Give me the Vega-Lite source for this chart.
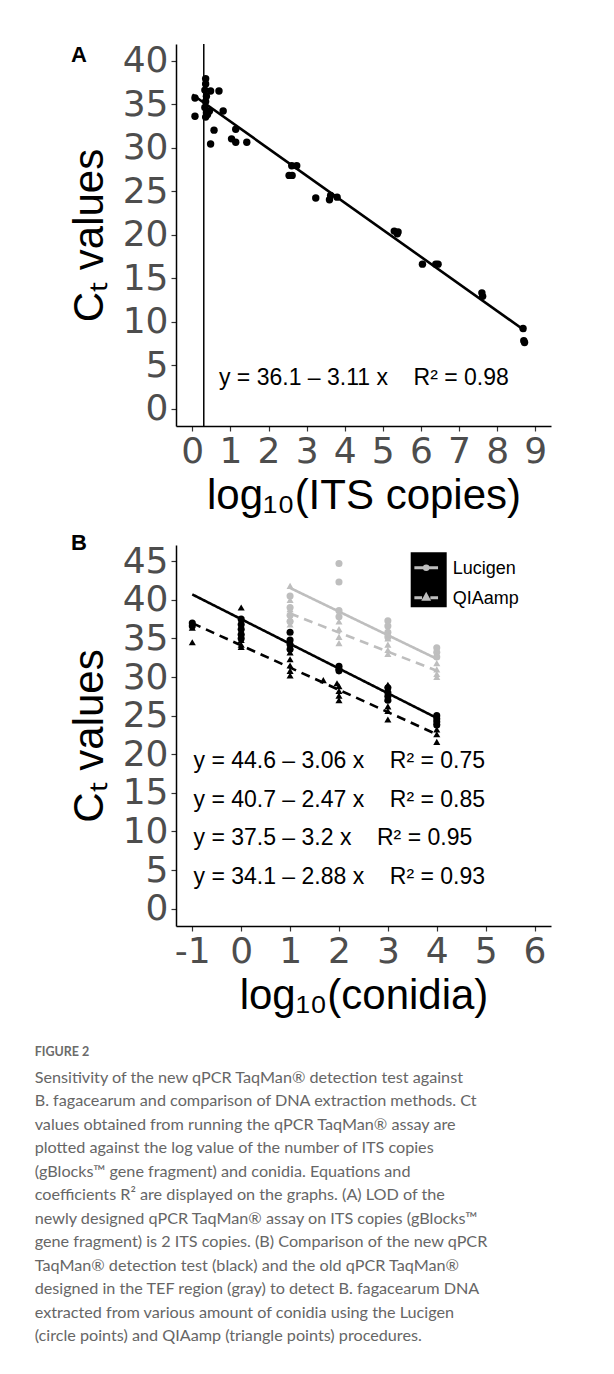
{
  "$schema": "https://vega.github.io/schema/vega-lite/v6.json",
  "background": "white",
  "padding": {"left": 34, "top": 42, "right": 5, "bottom": 5},
  "config": {
    "view": {"stroke": null},
    "font": "Liberation Sans",
    "axis": {"grid": false, "domainColor": "black", "domainWidth": 1.5, "tickColor": "#333333", "tickWidth": 1.2, "tickSize": 5, "labelFont": "DejaVu Sans", "labelFontSize": 36, "labelColor": "#4D4D4D", "labelPadding": 3, "labelOverlap": false, "titleFont": "Liberation Sans", "titleFontSize": 42, "titleColor": "black", "titleFontWeight": "normal", "labelExpr": "'' + datum.value"}
  },
  "title": {
    "text": "FIGURE 2",
    "subtitle": [
      "Sensitivity of the new qPCR TaqMan® detection test against",
      "B. fagacearum and comparison of DNA extraction methods. Ct",
      "values obtained from running the qPCR TaqMan® assay are",
      "plotted against the log value of the number of ITS copies",
      "(gBlocks™ gene fragment) and conidia. Equations and",
      "coefficients R² are displayed on the graphs. (A) LOD of the",
      "newly designed qPCR TaqMan® assay on ITS copies (gBlocks™",
      "gene fragment) is 2 ITS copies. (B) Comparison of the new qPCR",
      "TaqMan® detection test (black) and the old qPCR TaqMan®",
      "designed in the TEF region (gray) to detect B. fagacearum DNA",
      "extracted from various amount of conidia using the Lucigen",
      "(circle points) and QIAamp (triangle points) procedures."
    ],
    "orient": "bottom", "anchor": "start", "frame": "bounds", "dx": -34, "offset": 30,
    "font": "Lato", "fontSize": 12.5, "fontWeight": 700, "color": "#6b6b6b",
    "subtitleFont": "Lato", "subtitleFontSize": 16.2, "subtitleFontWeight": "normal", "subtitleColor": "#666666", "subtitleLineHeight": 23.5, "subtitlePadding": 11
  },
  "spacing": 16,
  "vconcat": [
    {
      "width": 375, "height": 382,
      "title": {"text": "A", "anchor": "start", "frame": "group", "dx": -105, "offset": -24, "fontSize": 22, "fontWeight": "bold", "color": "black", "font": "Liberation Sans"},
      "layer": [
        {
          "data": {"values": [{"lod": 0.30103}]},
          "mark": {"type": "rule", "color": "black", "strokeWidth": 1.5},
          "encoding": {"x": {"field": "lod", "type": "quantitative", "scale": {"domain": [-0.428, 9.414], "nice": false, "zero": false}}}
        },
        {
          "data": {"values": [
            {"x": 0.07, "ct": 35.7}, {"x": 0.07, "ct": 33.6},
            {"x": 0.35, "ct": 37.9}, {"x": 0.35, "ct": 37.3}, {"x": 0.33, "ct": 36.6}, {"x": 0.37, "ct": 35.9}, {"x": 0.35, "ct": 35.3}, {"x": 0.33, "ct": 34.6}, {"x": 0.37, "ct": 34.0}, {"x": 0.35, "ct": 33.5}, {"x": 0.4, "ct": 33.8}, {"x": 0.45, "ct": 34.2},
            {"x": 0.48, "ct": 36.5}, {"x": 0.7, "ct": 36.5}, {"x": 0.48, "ct": 30.4}, {"x": 0.57, "ct": 32.0}, {"x": 0.81, "ct": 34.2},
            {"x": 1.14, "ct": 32.1}, {"x": 1.03, "ct": 31.0}, {"x": 1.14, "ct": 30.6}, {"x": 1.43, "ct": 30.6},
            {"x": 2.54, "ct": 26.8}, {"x": 2.62, "ct": 26.8}, {"x": 2.61, "ct": 27.9}, {"x": 2.74, "ct": 27.9},
            {"x": 3.24, "ct": 24.2}, {"x": 3.6, "ct": 24.0}, {"x": 3.63, "ct": 24.5}, {"x": 3.8, "ct": 24.3},
            {"x": 5.3, "ct": 20.4}, {"x": 5.38, "ct": 20.1}, {"x": 5.4, "ct": 20.3},
            {"x": 6.04, "ct": 16.6}, {"x": 6.39, "ct": 16.6}, {"x": 6.45, "ct": 16.6},
            {"x": 7.6, "ct": 13.3}, {"x": 7.62, "ct": 12.9},
            {"x": 8.68, "ct": 9.2}, {"x": 8.7, "ct": 7.8}, {"x": 8.72, "ct": 7.6}
          ]},
          "mark": {"type": "point", "filled": true, "size": 55, "color": "black", "opacity": 1},
          "encoding": {
            "x": {"field": "x", "type": "quantitative", "scale": {"domain": [-0.428, 9.414], "nice": false, "zero": false}, "axis": {"values": [0,1,2,3,4,5,6,7,8,9], "title": "log₁₀(ITS copies)", "titlePadding": 6}},
            "y": {"field": "ct", "type": "quantitative", "scale": {"domain": [-2.0, 41.9], "nice": false, "zero": false}, "axis": {"values": [0,5,10,15,20,25,30,35,40], "title": "Cₜ values", "titlePadding": 10.5}}
          }
        },
        {
          "data": {"values": [{"x": 0, "ct": 36.1}, {"x": 8.75, "ct": 8.89}]},
          "mark": {"type": "line", "color": "black", "strokeWidth": 2.6},
          "encoding": {"x": {"field": "x", "type": "quantitative"}, "y": {"field": "ct", "type": "quantitative"}}
        },
        {
          "data": {"values": [{"eq": "y = 36.1 – 3.11 x \u00a0\u00a0\u00a0R² = 0.98"}]},
          "mark": {"type": "text", "align": "left", "baseline": "middle", "fontSize": 23, "color": "black", "font": "Liberation Sans"},
          "encoding": {"x": {"datum": 0.7}, "y": {"datum": 3.5}, "text": {"field": "eq"}}
        }
      ]
    },
    {
      "width": 375, "height": 381,
      "title": {"text": "B", "anchor": "start", "frame": "group", "dx": -105, "offset": -12, "fontSize": 22, "fontWeight": "bold", "color": "black", "font": "Liberation Sans"},
      "resolve": {"scale": {"shape": "independent"}},
      "layer": [
        {
          "data": {"values": [
            {"assay": "old", "method": "Lucigen", "x": 1, "ct": 41.54}, {"assay": "old", "method": "Lucigen", "x": 4, "ct": 32.36},
            {"assay": "old", "method": "QIAamp", "x": 1, "ct": 38.23}, {"assay": "old", "method": "QIAamp", "x": 4, "ct": 30.82},
            {"assay": "new", "method": "Lucigen", "x": -1, "ct": 40.7}, {"assay": "new", "method": "Lucigen", "x": 4, "ct": 24.7},
            {"assay": "new", "method": "QIAamp", "x": -1, "ct": 36.98}, {"assay": "new", "method": "QIAamp", "x": 4, "ct": 22.58}
          ]},
          "layer": [
            {
              "mark": {"type": "line", "strokeWidth": 2.6},
              "encoding": {
                "x": {"field": "x", "type": "quantitative", "scale": {"domain": [-1.333, 6.336], "nice": false, "zero": false}, "axis": {"values": [-1,0,1,2,3,4,5,6], "title": "log₁₀(conidia)", "titlePadding": 6}},
                "y": {"field": "ct", "type": "quantitative", "scale": {"domain": [-2.24, 47.1], "nice": false, "zero": false}, "axis": {"values": [0,5,10,15,20,25,30,35,40,45], "title": "Cₜ values", "titlePadding": 10.5}},
                "detail": {"field": "assay"},
                "color": {"field": "assay", "type": "nominal", "scale": {"domain": ["new", "old"], "range": ["black", "#BEBEBE"]}, "legend": null},
                "strokeDash": {"field": "method", "type": "nominal", "scale": {"range": [[1, 0], [9, 6]]},
                  "legend": {"orient": "none", "legendX": 234.7, "legendY": 508.3, "title": null, "padding": 3, "symbolSize": 625, "symbolOpacity": 0, "rowPadding": 7, "labelOffset": 12, "labelFontSize": 18, "labelColor": "black", "labelFont": "Liberation Sans"}}
              }
            },
            {
              "mark": {"type": "point", "opacity": 0, "size": 1},
              "encoding": {
                "x": {"field": "x", "type": "quantitative"},
                "y": {"field": "ct", "type": "quantitative"},
                "shape": {"field": "method", "type": "nominal", "scale": {"domain": ["Lucigen", "QIAamp"], "range": [
                  "M-1,0H1M0.15,0A0.15,0.15,0,1,1,-0.15,0A0.15,0.15,0,1,1,0.15,0",
                  "M-1,0H-0.35M0.35,0H1M-0.2,0.12L0,-0.24L0.2,0.12Z"]},
                  "legend": {"orient": "none", "legendX": 234.7, "legendY": 7.3, "title": null, "fillColor": "black", "padding": 2, "symbolSize": 560, "rowPadding": 8, "labelExpr": "''", "labelOffset": 0, "symbolOpacity": 1, "symbolStrokeWidth": 3, "symbolFillColor": "#BEBEBE", "symbolStrokeColor": "#BEBEBE"}}
              }
            }
          ]
        },
        {
          "data": {"values": [
            {"assay": "old", "method": "Lucigen", "x": 1, "ct": 40.5}, {"assay": "old", "method": "Lucigen", "x": 1, "ct": 39.0}, {"assay": "old", "method": "Lucigen", "x": 1, "ct": 38.0}, {"assay": "old", "method": "Lucigen", "x": 1, "ct": 37.2},
            {"assay": "old", "method": "Lucigen", "x": 2, "ct": 44.7}, {"assay": "old", "method": "Lucigen", "x": 2, "ct": 42.3}, {"assay": "old", "method": "Lucigen", "x": 2, "ct": 38.6}, {"assay": "old", "method": "Lucigen", "x": 2, "ct": 37.8},
            {"assay": "old", "method": "Lucigen", "x": 3, "ct": 37.3}, {"assay": "old", "method": "Lucigen", "x": 3, "ct": 36.6}, {"assay": "old", "method": "Lucigen", "x": 3, "ct": 35.8}, {"assay": "old", "method": "Lucigen", "x": 3, "ct": 35.2},
            {"assay": "old", "method": "Lucigen", "x": 4, "ct": 33.8}, {"assay": "old", "method": "Lucigen", "x": 4, "ct": 33.2}, {"assay": "old", "method": "Lucigen", "x": 4, "ct": 32.6},
            {"assay": "old", "method": "QIAamp", "x": 1, "ct": 41.8}, {"assay": "old", "method": "QIAamp", "x": 1, "ct": 40.0}, {"assay": "old", "method": "QIAamp", "x": 1, "ct": 38.8}, {"assay": "old", "method": "QIAamp", "x": 1, "ct": 37.6}, {"assay": "old", "method": "QIAamp", "x": 1, "ct": 36.8}, {"assay": "old", "method": "QIAamp", "x": 1, "ct": 35.8}, {"assay": "old", "method": "QIAamp", "x": 1, "ct": 34.5},
            {"assay": "old", "method": "QIAamp", "x": 2, "ct": 37.2}, {"assay": "old", "method": "QIAamp", "x": 2, "ct": 36.2}, {"assay": "old", "method": "QIAamp", "x": 2, "ct": 35.2}, {"assay": "old", "method": "QIAamp", "x": 2, "ct": 34.4},
            {"assay": "old", "method": "QIAamp", "x": 3, "ct": 35.0}, {"assay": "old", "method": "QIAamp", "x": 3, "ct": 34.2}, {"assay": "old", "method": "QIAamp", "x": 3, "ct": 33.5}, {"assay": "old", "method": "QIAamp", "x": 3, "ct": 33.0},
            {"assay": "old", "method": "QIAamp", "x": 4, "ct": 31.8}, {"assay": "old", "method": "QIAamp", "x": 4, "ct": 31.0}, {"assay": "old", "method": "QIAamp", "x": 4, "ct": 30.4}, {"assay": "old", "method": "QIAamp", "x": 4, "ct": 30.0},
            {"assay": "new", "method": "Lucigen", "x": -1, "ct": 37.0}, {"assay": "new", "method": "Lucigen", "x": -1, "ct": 36.6},
            {"assay": "new", "method": "Lucigen", "x": 0, "ct": 37.5}, {"assay": "new", "method": "Lucigen", "x": 0, "ct": 36.8}, {"assay": "new", "method": "Lucigen", "x": 0, "ct": 36.2}, {"assay": "new", "method": "Lucigen", "x": 0, "ct": 35.5}, {"assay": "new", "method": "Lucigen", "x": 0, "ct": 35.0},
            {"assay": "new", "method": "Lucigen", "x": 1, "ct": 35.8}, {"assay": "new", "method": "Lucigen", "x": 1, "ct": 34.8}, {"assay": "new", "method": "Lucigen", "x": 1, "ct": 34.2}, {"assay": "new", "method": "Lucigen", "x": 1, "ct": 33.6},
            {"assay": "new", "method": "Lucigen", "x": 2, "ct": 31.4}, {"assay": "new", "method": "Lucigen", "x": 2, "ct": 31.0}, {"assay": "new", "method": "Lucigen", "x": 2, "ct": 30.8},
            {"assay": "new", "method": "Lucigen", "x": 3, "ct": 28.6}, {"assay": "new", "method": "Lucigen", "x": 3, "ct": 28.0}, {"assay": "new", "method": "Lucigen", "x": 3, "ct": 27.5}, {"assay": "new", "method": "Lucigen", "x": 3, "ct": 27.0},
            {"assay": "new", "method": "Lucigen", "x": 4, "ct": 25.0}, {"assay": "new", "method": "Lucigen", "x": 4, "ct": 24.6}, {"assay": "new", "method": "Lucigen", "x": 4, "ct": 24.2}, {"assay": "new", "method": "Lucigen", "x": 4, "ct": 23.8},
            {"assay": "new", "method": "QIAamp", "x": -1, "ct": 36.4}, {"assay": "new", "method": "QIAamp", "x": -1, "ct": 34.5},
            {"assay": "new", "method": "QIAamp", "x": 0, "ct": 39.0}, {"assay": "new", "method": "QIAamp", "x": 0, "ct": 35.8}, {"assay": "new", "method": "QIAamp", "x": 0, "ct": 34.8}, {"assay": "new", "method": "QIAamp", "x": 0, "ct": 34.2}, {"assay": "new", "method": "QIAamp", "x": 0, "ct": 33.9},
            {"assay": "new", "method": "QIAamp", "x": 1, "ct": 33.2}, {"assay": "new", "method": "QIAamp", "x": 1, "ct": 32.3}, {"assay": "new", "method": "QIAamp", "x": 1, "ct": 31.5}, {"assay": "new", "method": "QIAamp", "x": 1, "ct": 30.8}, {"assay": "new", "method": "QIAamp", "x": 1, "ct": 30.2},
            {"assay": "new", "method": "QIAamp", "x": 1.68, "ct": 29.6}, {"assay": "new", "method": "QIAamp", "x": 1.96, "ct": 29.2},
            {"assay": "new", "method": "QIAamp", "x": 2, "ct": 28.8}, {"assay": "new", "method": "QIAamp", "x": 2, "ct": 28.2}, {"assay": "new", "method": "QIAamp", "x": 2, "ct": 27.6}, {"assay": "new", "method": "QIAamp", "x": 2, "ct": 27.0},
            {"assay": "new", "method": "QIAamp", "x": 3, "ct": 29.0}, {"assay": "new", "method": "QIAamp", "x": 3, "ct": 27.2}, {"assay": "new", "method": "QIAamp", "x": 3, "ct": 26.2}, {"assay": "new", "method": "QIAamp", "x": 3, "ct": 25.6}, {"assay": "new", "method": "QIAamp", "x": 3, "ct": 24.5},
            {"assay": "new", "method": "QIAamp", "x": 4, "ct": 24.2}, {"assay": "new", "method": "QIAamp", "x": 4, "ct": 23.2}, {"assay": "new", "method": "QIAamp", "x": 4, "ct": 22.6}, {"assay": "new", "method": "QIAamp", "x": 4, "ct": 21.6}
          ]},
          "mark": {"type": "point", "filled": true, "size": 50, "opacity": 1},
          "encoding": {
            "x": {"field": "x", "type": "quantitative"},
            "y": {"field": "ct", "type": "quantitative"},
            "color": {"field": "assay", "type": "nominal", "legend": null},
            "shape": {"field": "method", "type": "nominal", "scale": {"domain": ["Lucigen", "QIAamp"], "range": ["circle", "triangle-up"]}, "legend": null}
          }
        },
        {
          "data": {"values": [{"eq": "y = 44.6 – 3.06 x \u00a0\u00a0\u00a0R² = 0.75"}]},
          "mark": {"type": "text", "align": "left", "baseline": "middle", "fontSize": 23, "color": "black", "font": "Liberation Sans"},
          "encoding": {"x": {"datum": -0.975}, "y": {"datum": 19.1}, "text": {"field": "eq"}}
        },
        {
          "data": {"values": [{"eq": "y = 40.7 – 2.47 x \u00a0\u00a0\u00a0R² = 0.85"}]},
          "mark": {"type": "text", "align": "left", "baseline": "middle", "fontSize": 23, "color": "black", "font": "Liberation Sans"},
          "encoding": {"x": {"datum": -0.975}, "y": {"datum": 14.1}, "text": {"field": "eq"}}
        },
        {
          "data": {"values": [{"eq": "y = 37.5 – 3.2 x \u00a0\u00a0\u00a0R² = 0.95"}]},
          "mark": {"type": "text", "align": "left", "baseline": "middle", "fontSize": 23, "color": "black", "font": "Liberation Sans"},
          "encoding": {"x": {"datum": -0.975}, "y": {"datum": 9.16}, "text": {"field": "eq"}}
        },
        {
          "data": {"values": [{"eq": "y = 34.1 – 2.88 x \u00a0\u00a0\u00a0R² = 0.93"}]},
          "mark": {"type": "text", "align": "left", "baseline": "middle", "fontSize": 23, "color": "black", "font": "Liberation Sans"},
          "encoding": {"x": {"datum": -0.975}, "y": {"datum": 4.05}, "text": {"field": "eq"}}
        }
      ]
    }
  ]
}
